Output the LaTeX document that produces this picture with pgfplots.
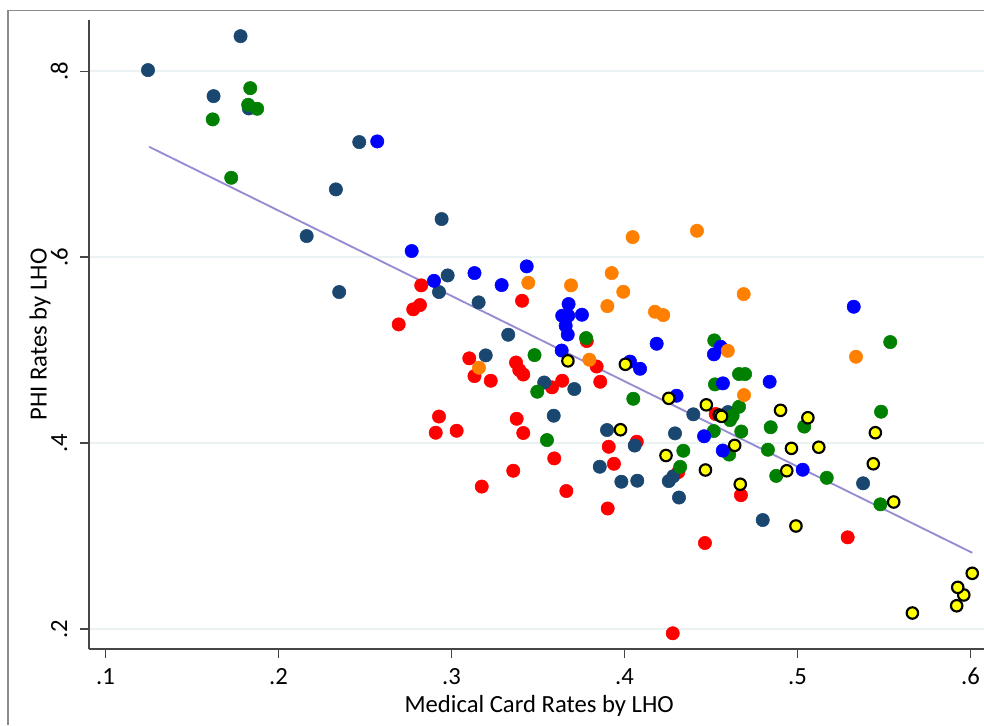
\documentclass[border=0pt]{standalone}
\usepackage{fontspec}
\setmainfont{Carlito}
\usepackage{pgfplots}
\pgfplotsset{compat=1.18}
\definecolor{snavy}{RGB}{26,71,111}
\definecolor{sgreen}{RGB}{0,128,0}
\definecolor{sblue}{RGB}{0,0,255}
\definecolor{sred}{RGB}{255,0,0}
\definecolor{sorange}{RGB}{255,128,0}
\definecolor{syellow}{RGB}{255,255,0}
\definecolor{fitline}{RGB}{150,140,210}
\definecolor{gridc}{RGB}{234,242,243}
\definecolor{framec}{RGB}{140,140,140}
\definecolor{axc}{RGB}{70,70,70}
\begin{document}
\fontsize{18.5}{22}\selectfont
\begin{tikzpicture}
\path[use as bounding box] (0,0) rectangle (738pt,543.75pt);
\draw[framec, line width=1pt] (6pt,0) -- (6pt,536pt) -- (738pt,536pt);
\begin{axis}[
  at={(66.75pt,57pt)}, anchor=south west,
  scale only axis, width=671.25pt, height=471.75pt,
  xmin=0.0905, xmax=0.6078, ymin=0.1785, ymax=0.855,
  axis x line*=bottom, axis y line*=left,
  axis line style={draw=axc, line width=0.9pt, -},
  xtick={0.1,0.2,0.3,0.4,0.5,0.6}, xticklabels={.1,.2,.3,.4,.5,.6},
  ytick={0.2,0.4,0.6,0.8}, yticklabels={.2,.4,.6,.8},
  tick align=outside, major tick length=6.75pt,
  tick style={draw=axc, line width=0.9pt},
  xticklabel style={anchor=center, inner sep=0pt, yshift=-14pt},
  yticklabel style={xshift=-15.5pt, rotate=90, anchor=center, inner sep=0pt},
  ymajorgrids, grid style={gridc, line width=1.2pt},
  xlabel={Medical Card Rates by LHO}, ylabel={PHI Rates by LHO},
  xlabel style={at={(axis description cs:0.503,-0.0905)}, anchor=center, inner sep=0pt},
  ylabel style={at={(axis description cs:-0.0547,0.5)}, anchor=center, inner sep=0pt},
  every axis plot/.append style={only marks, mark=*, mark size=5pt},
]
\addplot[sred, mark options={draw=none, fill=sred}] coordinates {
(0.2825,0.5696) (0.2818,0.5484) (0.2779,0.5438) (0.2695,0.5276) (0.3408,0.5530)
(0.3103,0.4911) (0.3133,0.4720) (0.3227,0.4670) (0.3373,0.4866) (0.3392,0.4785)
(0.3415,0.4737) (0.3581,0.4599) (0.3640,0.4670) (0.3860,0.4659) (0.3839,0.4823)
(0.3782,0.5097) (0.2928,0.4285) (0.2909,0.4111) (0.3030,0.4132) (0.3377,0.4261)
(0.3415,0.4108) (0.3594,0.3835) (0.3357,0.3702) (0.3175,0.3532) (0.3664,0.3484)
(0.3903,0.3296) (0.3909,0.3960) (0.3939,0.3777) (0.4071,0.4014) (0.4279,0.1954)
(0.4465,0.2925) (0.4673,0.3439) (0.4527,0.4312) (0.4311,0.3688) (0.5290,0.2986)
};
\addplot[snavy, mark options={draw=none, fill=snavy}] coordinates {
(0.1246,0.8011) (0.1781,0.8376) (0.1625,0.7731) (0.1829,0.7599) (0.2467,0.7237)
(0.2332,0.6728) (0.2163,0.6226) (0.2943,0.6409) (0.2351,0.5624) (0.2978,0.5803)
(0.2928,0.5624) (0.3157,0.5513) (0.3198,0.4943) (0.3328,0.5165) (0.3536,0.4651)
(0.3710,0.4581) (0.3591,0.4294) (0.3899,0.4140) (0.4059,0.3973) (0.3857,0.3745)
(0.3982,0.3584) (0.4074,0.3595) (0.4292,0.4104) (0.4398,0.4309) (0.4282,0.3643)
(0.4256,0.3591) (0.4315,0.3414) (0.4799,0.3172) (0.5379,0.3567) (0.4598,0.4333)
};
\addplot[sgreen, mark options={draw=none, fill=sgreen}] coordinates {
(0.1837,0.7817) (0.1825,0.7638) (0.1877,0.7595) (0.1620,0.7481) (0.1727,0.6853)
(0.3778,0.5129) (0.3480,0.4946) (0.3496,0.4552) (0.3552,0.4032) (0.4051,0.4476)
(0.4519,0.5104) (0.4662,0.4742) (0.4697,0.4742) (0.4523,0.4631) (0.4662,0.4390)
(0.4610,0.4247) (0.4675,0.4124) (0.4625,0.4294) (0.4516,0.4129) (0.4605,0.3876)
(0.4340,0.3917) (0.4322,0.3744) (0.4845,0.4170) (0.4829,0.3928) (0.4877,0.3647)
(0.5039,0.4177) (0.5169,0.3626) (0.5483,0.4337) (0.5536,0.5086) (0.5479,0.3341)
};
\addplot[sblue, mark options={draw=none, fill=sblue}] coordinates {
(0.2571,0.7244) (0.2770,0.6065) (0.2899,0.5745) (0.3133,0.5828) (0.3290,0.5699)
(0.3435,0.5900) (0.3677,0.5495) (0.3640,0.5369) (0.3675,0.5369) (0.3754,0.5380)
(0.3660,0.5261) (0.3672,0.5167) (0.3637,0.4995) (0.4032,0.4876) (0.4090,0.4799)
(0.4186,0.5068) (0.4556,0.5035) (0.4517,0.4954) (0.4569,0.4642) (0.4839,0.4659)
(0.5325,0.5466) (0.4301,0.4509) (0.4460,0.4073) (0.4568,0.3919) (0.5030,0.3713)
};
\addplot[sorange, mark options={draw=none, fill=sorange}] coordinates {
(0.4419,0.6283) (0.4047,0.6215) (0.4689,0.5602) (0.3926,0.5828) (0.3444,0.5724)
(0.3691,0.5696) (0.3993,0.5627) (0.3901,0.5473) (0.4176,0.5412) (0.4224,0.5376)
(0.4597,0.4992) (0.5338,0.4928) (0.4691,0.4516) (0.3797,0.4896) (0.3159,0.4810)
};
\addplot[black, mark options={draw=black, fill=syellow, line width=1.6pt}, mark size=4.3pt] coordinates {
(0.3673,0.4884) (0.4005,0.4847) (0.4256,0.4481) (0.4473,0.4411) (0.4548,0.4301)
(0.4561,0.4287) (0.3977,0.4143) (0.4240,0.3866) (0.4468,0.3710) (0.4637,0.3975)
(0.4669,0.3557) (0.4902,0.4352) (0.5060,0.4272) (0.4965,0.3943) (0.5123,0.3955)
(0.4938,0.3702) (0.4991,0.3108) (0.5450,0.4111) (0.5438,0.3777) (0.5556,0.3366)
(0.5664,0.2172) (0.5920,0.2250) (0.5961,0.2366) (0.5926,0.2448) (0.6010,0.2599)
};
\addplot[fitline, line width=1.4pt, no markers, mark=none, only marks=false, sharp plot] coordinates {(0.1253,0.7186) (0.6010,0.2820)};
\end{axis}
\end{tikzpicture}
\end{document}
